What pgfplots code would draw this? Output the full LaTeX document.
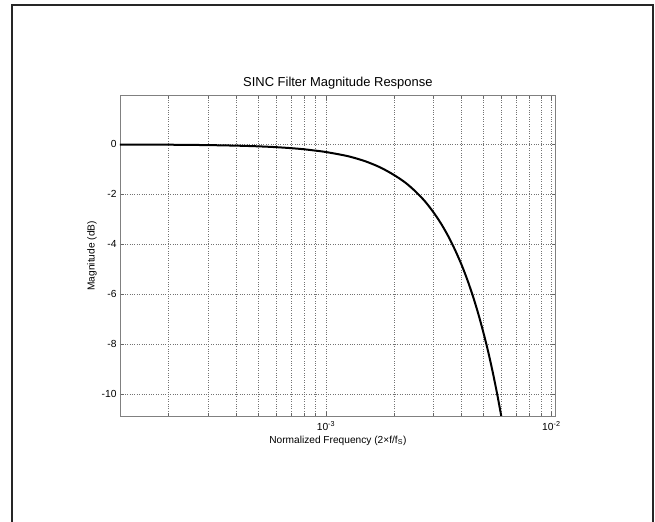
\documentclass[border=0pt]{standalone}
\usepackage{pgfplots}
\pgfplotsset{compat=1.18}
\usepackage{fontspec}
\setmainfont{Liberation Sans}
\pgfplotstableread{
f dB
1.22e-4 -0.005
1.5e-4 -0.007
2e-4 -0.012
3e-4 -0.028
4e-4 -0.05
5e-4 -0.077
6e-4 -0.11
7e-4 -0.15
8e-4 -0.195
9e-4 -0.25
1e-3 -0.305
1.25e-3 -0.47
1.5e-3 -0.68
1.75e-3 -0.93
2e-3 -1.22
2.25e-3 -1.53
2.5e-3 -1.89
2.75e-3 -2.28
3e-3 -2.72
3.25e-3 -3.19
3.5e-3 -3.70
3.75e-3 -4.25
4e-3 -4.83
4.25e-3 -5.45
4.5e-3 -6.11
4.75e-3 -6.81
5e-3 -7.55
5.25e-3 -8.32
5.5e-3 -9.14
5.75e-3 -10.0
6e-3 -10.9
6.25e-3 -11.8
}\sincdata
\begin{document}
\begin{tikzpicture}[x=1bp,y=1bp]
\useasboundingbox (0,0) rectangle (655,522);
\fill[white] (0,0) rectangle (655,522);
\draw[line width=1.5bp, black!85] (12,0) -- (12,517) -- (653,517) -- (653,0);
\begin{axis}[
  at={(120bp,106bp)}, anchor=south west,
  scale only axis, width=435.7bp, height=320.3bp,
  xmode=log,
  xmin=1.22e-4, xmax=1.045e-2,
  ymin=-10.87, ymax=1.95,
  xtick={1e-3,1e-2},
  xticklabels={10\textsuperscript{-3},10\textsuperscript{-2}},
  minor xtick={2e-4,3e-4,4e-4,5e-4,6e-4,7e-4,8e-4,9e-4,2e-3,3e-3,4e-3,5e-3,6e-3,7e-3,8e-3,9e-3},
  ytick={-10,-8,-6,-4,-2,0},
  yticklabels={-10,-8,-6,-4,-2,0},
  grid=both,
  major grid style={black!55, dotted, line width=0.6bp},
  minor grid style={black!55, dotted, line width=0.6bp},
  axis line style={black!50, line width=0.8bp},
  tick style={black!60, line width=0.6bp},
  major tick length=4bp, minor tick length=2.5bp,
  tick align=inside,
  ticklabel style={font=\fontsize{10.3}{12}\selectfont, text=black},
  xticklabel style={yshift=-2bp},
  title={SINC Filter Magnitude Response},
  title style={font=\fontsize{13}{15}\selectfont, yshift=-3bp},
  xlabel={Normalized Frequency (2×f/f\textsubscript{S})},
  ylabel={Magnitude (dB)},
  label style={font=\fontsize{10.2}{12}\selectfont},
  xlabel style={yshift=1bp},
  ylabel style={yshift=-2bp},
  clip=true,
]
\addplot[black, line width=2bp, smooth, tension=0.5] table[x=f, y=dB] {\sincdata};
\end{axis}
\end{tikzpicture}
\end{document}
